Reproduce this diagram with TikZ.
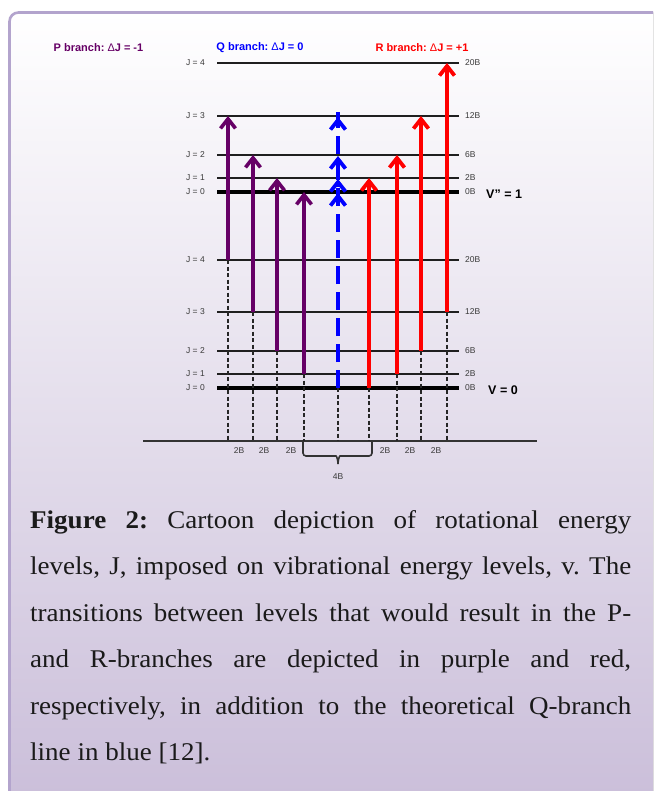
\documentclass[tikz,border=0pt]{standalone}
\usepackage{fontspec}
\setmainfont{Liberation Serif}[FakeStretch=1.06]
\newfontfamily\arialf{Liberation Sans}
\usetikzlibrary{arrows.meta}
\definecolor{ppl}{HTML}{660066}
\definecolor{qblue}{HTML}{0000FF}
\definecolor{rred}{HTML}{FF0000}
\definecolor{boxline}{HTML}{B3A4CD}
\definecolor{lav}{HTML}{CBBFDA}
\definecolor{lbl}{HTML}{3A3A3A}
\definecolor{captc}{HTML}{1A1A1A}
\newcommand\capline[1]{\makebox[601pt][s]{#1}}
\frenchspacing
\tikzset{
  level/.style={line width=1.8pt, draw=black!88},
  zerolevel/.style={line width=4pt, draw=black},
  jlab/.style={font=\arialf\fontsize{8.5}{10}\selectfont, text=lbl, inner sep=0pt},
  hdr/.style={font=\arialf\bfseries\fontsize{11}{13}\selectfont, inner sep=0pt},
  vlab/.style={font=\arialf\bfseries\fontsize{12.5}{15}\selectfont, inner sep=0pt},
  capt/.style={font=\fontsize{25.5}{30}\selectfont, text=captc, inner sep=0pt},
  tip/.style={-{Straight Barb[length=9.5pt,width=15pt]}},
  parrow/.style={tip, line width=3.6pt, draw=ppl},
  rarrow/.style={tip, line width=3.8pt, draw=rred},
  qline/.style={line width=4pt, draw=qblue, dash pattern=on 18pt off 8pt},
  qhead/.style={tip, line width=3.8pt, draw=qblue},
  drop/.style={line width=1.3pt, draw=black!85, dash pattern=on 4pt off 2.5pt},
  axisline/.style={line width=1.5pt, draw=black!80},
  bracket/.style={line width=1.6pt, draw=black!80, rounded corners=3pt}
}
\begin{document}
\begin{tikzpicture}[x=1pt,y=-1pt]
\useasboundingbox (0,0) rectangle (653,791);
% background panel
\begin{scope}
\clip (0,0) rectangle (653,791);
\fill[top color=white, bottom color=lav, rounded corners=9pt] (9.5,12.5) rectangle (700,795);
\draw[draw=boxline, line width=2.6pt, rounded corners=9pt] (9.5,12.5) rectangle (700,830);
\end{scope}
% headers
\node[hdr, text=ppl, anchor=base] (hp) at (98.5,51.5) {P branch: {\mdseries Δ}J = -1};
\node[hdr, text=qblue, anchor=base] (hq) at (260,50.5) {Q branch: {\mdseries Δ}J = 0};
\node[hdr, text=rred, anchor=base] (hr) at (422,51.5) {R branch: {\mdseries Δ}J = +1};
% rotational levels
\foreach \n/\yu/\yl/\e in {4/63/260/20B, 3/116/312/12B, 2/155/351/6B, 1/178/374/2B, 0/192/388/0B}{
  \coordinate (U\n w) at (217,\yu);
  \coordinate (U\n e) at (459,\yu);
  \coordinate (L\n w) at (217,\yl);
  \coordinate (L\n e) at (459,\yl);
  \node[jlab, anchor=east] (JU\n) at ([xshift=-12pt]U\n w) {J = \n};
  \node[jlab, anchor=east] (JL\n) at ([xshift=-12pt]L\n w) {J = \n};
  \node[jlab, anchor=west] (EU\n) at ([xshift=6pt]U\n e) {\e};
  \node[jlab, anchor=west] (EL\n) at ([xshift=6pt]L\n e) {\e};
}
\foreach \n in {4,3,2,1}{
  \draw[level] (U\n w) -- (U\n e);
  \draw[level] (L\n w) -- (L\n e);
}
\draw[zerolevel] (U0w) -- (U0e);
\draw[zerolevel] (L0w) -- (L0e);
\node[vlab, anchor=west] (v1) at (486,194) {V” = 1};
\node[vlab, anchor=west] (v0) at (488,390) {V = 0};
% axis
\coordinate (axl) at (143,441);
\coordinate (axr) at (537,441);
\draw[axisline] (axl) -- (axr);
% transition coordinates: base (b), top (t), axis (a)
\foreach \name/\x/\yb/\yt in {p1/228/260/116, p2/253/312/155, p3/277/351/178, p4/304/374/192,
  q/338/388/116, r1/369/388/178, r2/397/374/155, r3/421/351/116, r4/447/312/63}{
  \coordinate (\name b) at (\x,\yb);
  \coordinate (\name t) at (\x,\yt);
  \coordinate (\name a) at (\x,441);
}
% dashed drops
\foreach \name in {p1,p2,p3,p4,q,r1,r2,r3,r4}{
  \draw[drop] (\name b) -- (\name a);
}
% P branch
\foreach \name in {p1,p2,p3,p4}{ \draw[parrow] (\name b) -- (\name t); }
% R branch
\foreach \name in {r1,r2,r3,r4}{ \draw[rarrow] (\name b) -- (\name t); }
% Q branch
\draw[qline] (qb) -- ([yshift=4pt]qt);
\foreach \y/\k in {193/h0,179/h1,156/h2,117/h3}{
  \coordinate (q\k s) at (338,\y+8);
  \coordinate (q\k e) at (338,\y);
  \draw[qhead] (q\k s) -- (q\k e);
}
% spacing labels
\foreach \x/\k in {239/s1,264/s2,291/s3,385/s4,410/s5,436/s6}{
  \node[jlab] (\k) at (\x,451) {2B};
}
\draw[bracket] (303,442) |- (333,456) to[out=0,in=90] (338,464);
\draw[bracket] (372,442) |- (343,456) to[out=180,in=90] (338,464);
\node[jlab] (fourB) at (338,477) {4B};
% caption
\node[capt, anchor=base west] (c1) at (30,528) {\capline{\textbf{Figure 2:} Cartoon depiction of rotational energy}};
\node[capt, anchor=base west] (c2) at (30,574.5) {\capline{levels, J, imposed on vibrational energy levels, v. The}};
\node[capt, anchor=base west] (c3) at (30,621) {\capline{transitions between levels that would result in the P-}};
\node[capt, anchor=base west] (c4) at (30,667.5) {\capline{and R-branches are depicted in purple and red,}};
\node[capt, anchor=base west] (c5) at (30,714) {\capline{respectively, in addition to the theoretical Q-branch}};
\node[capt, anchor=base west] (c6) at (30,760.5) {line in blue [12].};
\end{tikzpicture}
\end{document}
